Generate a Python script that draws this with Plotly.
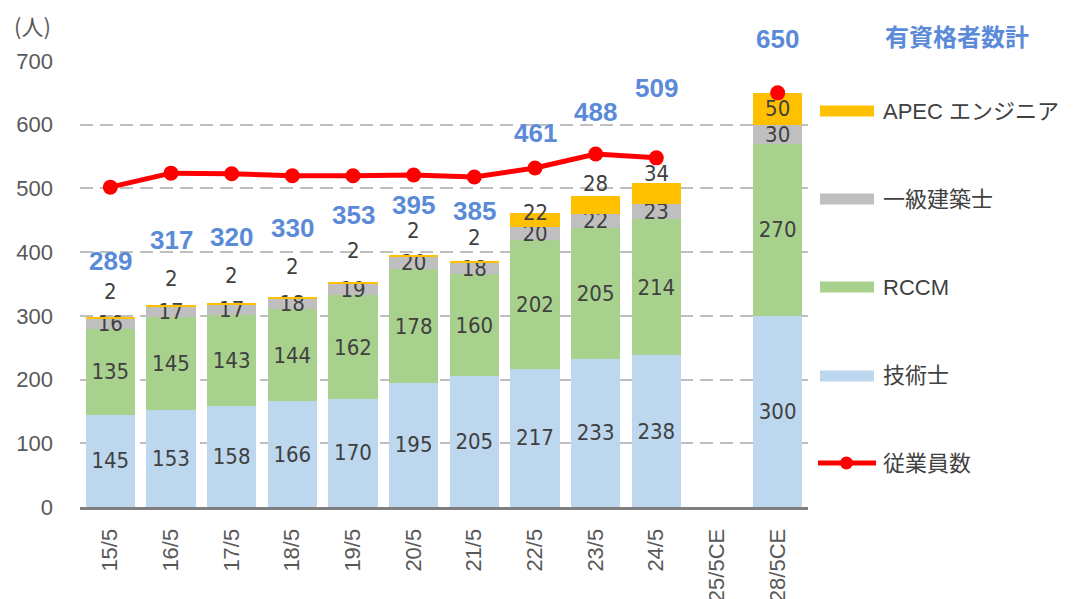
import plotly.graph_objects as go

# ---------------- data ----------------
categories = ["15/5", "16/5", "17/5", "18/5", "19/5", "20/5", "21/5",
              "22/5", "23/5", "24/5", "25/5CE", "28/5CE"]
gijutsushi = [145, 153, 158, 166, 170, 195, 205, 217, 233, 238, None, 300]   # 技術士
rccm = [135, 145, 143, 144, 162, 178, 160, 202, 205, 214, None, 270]          # RCCM
ikkyu = [16, 17, 17, 18, 19, 20, 18, 20, 22, 23, None, 30]                    # 一級建築士
apec = [2, 2, 2, 2, 2, 2, 2, 22, 28, 34, None, 50]                            # APECエンジニア
employees = [502, 524, 523, 520, 520, 521, 518, 532, 554, 548, None, 650]     # 従業員数
totals = [289, 317, 320, 330, 353, 395, 385, 461, 488, 509, None, 650]        # 有資格者数計

# ---------------- styling / layout helpers ----------------
W, H = 1074, 599
PAD = 8                       # default page margin of the html body
L, R, T, B = 80, 808, 61, 507  # plot area in page pixels
C_GIJ, C_RCCM, C_IKK, C_APEC = "#BDD7EE", "#A9D18E", "#BFBFBF", "#FFC000"
C_LINE, C_TOTAL, C_TXT, C_AX = "#FF0000", "#5B8BD8", "#404040", "#595959"
BASE = "Liberation Sans, Arial, Noto Sans CJK JP, sans-serif"
LBL = "DejaVu Sans Condensed, Liberation Sans, sans-serif"

apec_inside = [False] * 11 + [True]
apec_shift = [26, 27, 28, 30, 32, 25, 24, 1, 13, 9, 0, 0]
total_shift = [56, 65, 66, 69, 67, 50, 51, 80, 84, 95, 0, 54]


def px(x):
    return (x - L) / (R - L)


def py(y):
    return (B - y) / (B - T)


fig = go.Figure()

lbl_font = dict(family=LBL, size=22, color=C_TXT)
for name, vals, col in [("技術士", gijutsushi, C_GIJ), ("RCCM", rccm, C_RCCM),
                        ("一級建築士", ikkyu, C_IKK)]:
    fig.add_trace(go.Bar(
        x=categories, y=vals, name=name, marker=dict(color=col, line=dict(width=0)),
        text=[("" if v is None else str(v)) for v in vals], texttemplate="%{text}",
        textposition="inside", insidetextanchor="middle", textangle=0,
        constraintext="none", textfont=lbl_font, cliponaxis=False,
        hoverinfo="skip", showlegend=False))

fig.add_trace(go.Bar(
    x=categories, y=apec, name="APEC エンジニア",
    marker=dict(color=C_APEC, line=dict(width=0)),
    text=[(str(v) if (v is not None and ins) else "") for v, ins in zip(apec, apec_inside)],
    texttemplate="%{text}", textposition="inside", insidetextanchor="middle",
    textangle=0, constraintext="none", textfont=lbl_font, cliponaxis=False,
    hoverinfo="skip", showlegend=False))

fig.add_trace(go.Scatter(
    x=categories, y=employees, name="従業員数", mode="lines+markers",
    line=dict(color=C_LINE, width=5), marker=dict(color=C_LINE, size=15),
    connectgaps=False, cliponaxis=False, showlegend=False))

annotations = []
for i, cat in enumerate(categories):
    if gijutsushi[i] is None:
        continue
    top = gijutsushi[i] + rccm[i] + ikkyu[i] + apec[i]
    if not apec_inside[i]:
        annotations.append(dict(x=cat, y=top, xref="x", yref="y", text=str(apec[i]),
                                showarrow=False, yanchor="middle", yshift=apec_shift[i],
                                font=lbl_font))
    if totals[i] is not None:
        annotations.append(dict(x=cat, y=top, xref="x", yref="y", text=str(totals[i]),
                                showarrow=False, yanchor="middle", yshift=total_shift[i],
                                font=dict(family=BASE, size=26, color=C_TOTAL,
                                          weight="bold")))

# unit label
annotations.append(dict(x=px(33), y=py(25), xref="paper", yref="paper", text="(人)",
                        showarrow=False, xanchor="center", yanchor="middle",
                        font=dict(family="Noto Sans CJK JP", size=22, color=C_AX)))
# title of totals
annotations.append(dict(x=px(957), y=py(36), xref="paper", yref="paper", text="有資格者数計",
                        showarrow=False, xanchor="center", yanchor="middle",
                        font=dict(family="Noto Sans CJK JP", size=24, color=C_TOTAL,
                                  weight="bold")))

# manual legend
shapes = []
legend_items = [("APEC エンジニア", C_APEC, 111, "bar"), ("一級建築士", C_IKK, 199, "bar"),
                ("RCCM", C_RCCM, 287, "bar"), ("技術士", C_GIJ, 376, "bar"),
                ("従業員数", C_LINE, 463, "line")]
for label, col, yy, kind in legend_items:
    if kind == "bar":
        shapes.append(dict(type="rect", xref="paper", yref="paper",
                           x0=px(820), x1=px(874), y0=py(yy + 5.5), y1=py(yy - 5.5),
                           fillcolor=col, line=dict(width=0)))
    else:
        shapes.append(dict(type="line", xref="paper", yref="paper",
                           x0=px(818), x1=px(876), y0=py(yy), y1=py(yy),
                           line=dict(color=col, width=5)))
        shapes.append(dict(type="circle", xref="paper", yref="paper",
                           x0=px(840), x1=px(853), y0=py(yy + 6.5), y1=py(yy - 6.5),
                           fillcolor=col, line=dict(width=0)))
    annotations.append(dict(x=px(881), y=py(yy), xref="paper", yref="paper", text=label,
                            showarrow=False, xanchor="left", yanchor="middle",
                            font=dict(family=BASE, size=22, color=C_TXT)))

fig.update_layout(
    width=W, height=H, barmode="stack", bargap=0.19,
    margin=dict(l=L - PAD, r=W - R + PAD, t=T - PAD, b=H - B + PAD, autoexpand=False),
    paper_bgcolor="white", plot_bgcolor="white",
    font=dict(family=BASE, color=C_AX),
    annotations=annotations, shapes=shapes, showlegend=False,
    xaxis=dict(type="category", categoryorder="array", categoryarray=categories,
               range=[-0.5, len(categories) - 0.5],
               tickangle=-90, tickfont=dict(family=BASE, size=22, color=C_AX),
               showline=True, linecolor="#7F7F7F", linewidth=3, ticks="",
               showgrid=False, ticklabelstandoff=10, automargin=False, fixedrange=True),
    yaxis=dict(range=[0, 700], dtick=100, tickfont=dict(family=BASE, size=22, color=C_AX),
               showgrid=True, gridcolor="#BFBFBF", gridwidth=2, griddash="13px,7px",
               zeroline=False, showline=False, ticks="", ticklabelstandoff=26,
               automargin=False, fixedrange=True),
)

fig.write_html("out.html")
